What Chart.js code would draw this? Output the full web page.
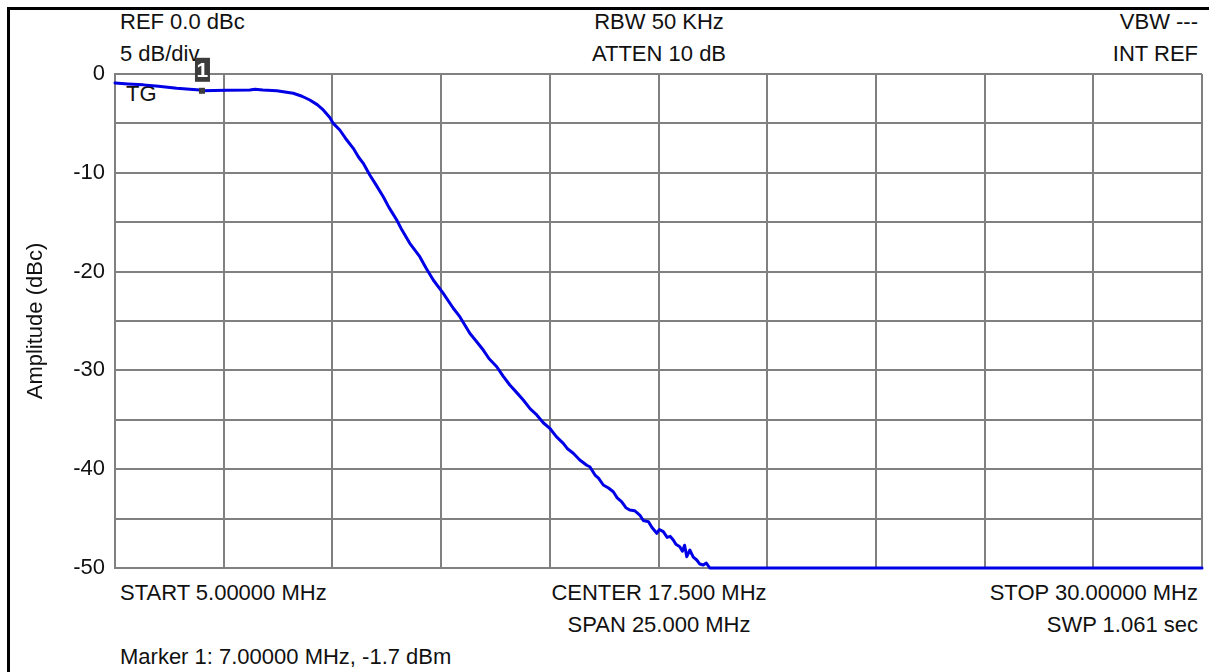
<!DOCTYPE html>
<html>
<head>
<meta charset="utf-8">
<script src="https://cdn.jsdelivr.net/npm/chart.js@4.4.1/dist/chart.umd.min.js"></script>
<style>
  html, body { margin: 0; padding: 0; background: #ffffff; }
  #wrap { position: relative; width: 1209px; height: 672px; overflow: hidden; background: #fff; }
  #frame { position: absolute; left: 7px; top: 7px; width: 1220px; height: 700px;
           border-top: 3px solid #000; border-left: 3px solid #000; z-index: 0; }
  canvas { position: absolute; left: 0; top: 0; z-index: 2; }
  .t { position: absolute; font-family: "Liberation Sans", Arial, sans-serif; font-size: 22px;
       line-height: 26px; color: #111; white-space: nowrap; z-index: 1; }
  .l { text-align: left; }
  .c { transform: translateX(-50%); }
  .r { transform: translateX(-100%); }
</style>
</head>
<body>
<div id="wrap">
  <div id="frame"></div>
  <div class="t l" style="left:120px; top:9px;">REF 0.0 dBc</div>
  <div class="t l" style="left:120px; top:41px;">5 dB/div</div>
  <div class="t c" style="left:659px; top:9px;">RBW 50 KHz</div>
  <div class="t c" style="left:659px; top:41px;">ATTEN 10 dB</div>
  <div class="t r" style="left:1198px; top:9px;">VBW ---</div>
  <div class="t r" style="left:1198px; top:41px;">INT REF</div>
  <div class="t l" style="left:126px; top:81px;">TG</div>
  <div class="t l" style="left:120px; top:580px;">START 5.00000 MHz</div>
  <div class="t c" style="left:659px; top:580px;">CENTER 17.500 MHz</div>
  <div class="t r" style="left:1198px; top:580px;">STOP 30.00000 MHz</div>
  <div class="t c" style="left:659px; top:612px;">SPAN 25.000 MHz</div>
  <div class="t r" style="left:1198px; top:612px;">SWP 1.061 sec</div>
  <div class="t l" style="left:120px; top:644px;">Marker 1: 7.00000 MHz, -1.7 dBm</div>
  <canvas id="c" width="1209" height="672"></canvas>
</div>
<script>
// Frequency (MHz) and amplitude (dBc)
const freqs = [5.00, 5.30, 5.65, 6.00, 6.42, 6.95, 7.00, 7.57, 8.10, 8.22, 8.40, 8.72, 9.10, 9.30, 9.48, 9.65, 9.79, 9.94,
  10.02, 10.17, 10.30, 10.48, 10.60, 10.71, 10.86, 11.00, 11.17, 11.30, 11.48, 11.60, 11.78, 12.01, 12.15, 12.32, 12.55,
  12.78, 12.93, 13.16, 13.30, 13.47, 13.60, 13.78, 13.93, 14.08, 14.25, 14.39, 14.55, 14.70, 14.85, 15.00, 15.15, 15.31,
  15.40, 15.54, 15.69, 15.85, 15.92, 16.04, 16.12, 16.23, 16.35, 16.46, 16.55, 16.65, 16.75, 16.84, 16.95, 17.07, 17.15,
  17.27, 17.35, 17.46, 17.52, 17.61, 17.70, 17.77, 17.84, 17.90, 17.99, 18.05, 18.10, 18.15, 18.22, 18.30, 18.38, 18.45,
  18.53, 18.60, 18.68, 20.00, 22.50, 25.00, 27.50, 30.00];
const amps = [-0.9, -1.0, -1.1, -1.25, -1.45, -1.62, -1.7, -1.65, -1.62, -1.55, -1.62, -1.69, -1.95, -2.25, -2.63, -3.1, -3.64, -4.4,
  -5.0, -5.67, -6.5, -7.52, -8.4, -9.04, -10.22, -11.2, -12.42, -13.5, -14.78, -15.8, -17.14, -18.49, -19.6, -20.85, -22.2,
  -23.71, -24.56, -26.24, -27.0, -27.94, -28.8, -29.63, -30.6, -31.48, -32.3, -33.0, -33.9, -34.51, -35.3, -35.86, -36.7, -37.38,
  -37.9, -38.39, -39.07, -39.6, -39.75, -40.59, -40.9, -41.6, -41.9, -42.28, -42.9, -43.29, -43.9, -44.13, -44.2, -44.64, -45.2,
  -45.31, -45.9, -46.49, -46.1, -46.32, -46.9, -46.8, -47.17, -47.6, -47.84, -48.3, -47.7, -48.86, -48.18, -48.9, -49.19, -49.6,
  -49.7, -49.5, -50.0, -50.0, -50.0, -50.0, -50.0, -50.0];
const markerFreq = 7.0;
const markerAmp = -1.7;
const markerLabel = "1";
const yTitle = "Amplitude (dBc)";

const FONT = "'Liberation Sans', Arial, sans-serif";

const markerPlugin = {
  id: 'markerBox',
  afterDatasetsDraw(chart) {
    const ctx = chart.ctx;
    const px = chart.scales.x.getPixelForValue(markerFreq);
    const py = chart.scales.y.getPixelForValue(markerAmp);
    ctx.save();
    ctx.fillStyle = '#3c3c3c';
    ctx.fillRect(px - 3, py - 3, 6, 6);
    ctx.fillRect(px - 7, py - 33, 15, 24);
    ctx.fillStyle = '#ffffff';
    ctx.font = "bold 21px " + FONT;
    ctx.textAlign = 'center';
    ctx.textBaseline = 'middle';
    ctx.fillText(markerLabel, px + 0.5, py - 20);
    ctx.restore();
  }
};

new Chart(document.getElementById('c'), {
  type: 'line',
  data: {
    datasets: [{
      data: freqs.map((f, i) => ({ x: f, y: amps[i] })),
      borderColor: '#0000e6',
      borderWidth: 3,
      pointRadius: 0,
      tension: 0,
      fill: false,
      clip: false,
      borderJoinStyle: 'round',
      borderCapStyle: 'round'
    }]
  },
  options: {
    responsive: false,
    animation: false,
    devicePixelRatio: 1,
    layout: { padding: { left: 0, top: 74, right: 7, bottom: 0 } },
    plugins: { legend: { display: false }, tooltip: { enabled: false } },
    scales: {
      x: {
        type: 'linear', min: 5, max: 30,
        ticks: { stepSize: 2.5, display: false },
        grid: { color: '#808080', lineWidth: 2, drawTicks: false },
        border: { display: true, color: '#808080', width: 2 },
        afterFit(s) { s.height = 104; }
      },
      y: {
        type: 'linear', min: -50, max: 0,
        ticks: {
          stepSize: 5, color: '#111', padding: 10,
          font: { family: FONT, size: 22 },
          callback: v => (v % 10 === 0 ? String(v) : '')
        },
        grid: { color: '#808080', lineWidth: 2, drawTicks: false },
        border: { display: true, color: '#808080', width: 2 },
        title: { display: true, text: yTitle, color: '#111', font: { family: FONT, size: 22 }, padding: { top: 23, bottom: 0 } },
        afterFit(s) { s.width = 115; }
      }
    }
  },
  plugins: [markerPlugin]
});
</script>
</body>
</html>
